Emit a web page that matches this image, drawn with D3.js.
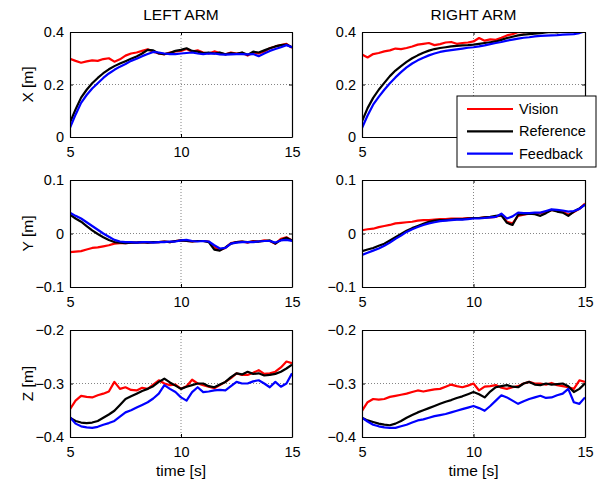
<!DOCTYPE html>
<html lang="en">

<head>
	<meta charset="utf-8">
	<title>arm tracking</title>
	<style>
		body { margin: 0; background: #fff; }
		svg text { font-family: "Liberation Sans", Arial, Helvetica, sans-serif; fill: #000; }
	</style>
</head>

<body>
	<script type="text/javascript" src="https://cdn.jsdelivr.net/npm/d3@7/dist/d3.min.js"></script>
	<script type="text/javascript">

		// samples every 0.25 s from 5 s to 15 s
		const time = d3.range(0, 41).map((i) => 5 + i * 0.25);

		const seriesNames = ["Vision", "Reference", "Feedback"];
		const seriesColors = ["#ff0000", "#000000", "#0000ff"];
		const columnTitles = ["LEFT ARM", "RIGHT ARM"];
		const rowLabels = ["X [m]", "Y [m]", "Z [m]"];
		const xTicks = [5, 10, 15];
		const yTicks = [[0, 0.2, 0.4], [-0.1, 0, 0.1], [-0.4, -0.3, -0.2]];

		const leftX = {
			vision: [0.298, 0.290, 0.283, 0.288, 0.292, 0.290, 0.297, 0.300, 0.287, 0.296, 0.310, 0.318, 0.322, 0.328, 0.334, 0.325, 0.318, 0.315, 0.322, 0.326, 0.328, 0.335, 0.325, 0.330, 0.322, 0.318, 0.326, 0.320, 0.315, 0.322, 0.318, 0.321, 0.310, 0.322, 0.318, 0.326, 0.338, 0.345, 0.350, 0.355, 0.340],
			reference: [0.055, 0.105, 0.150, 0.180, 0.205, 0.225, 0.243, 0.258, 0.270, 0.280, 0.289, 0.298, 0.307, 0.318, 0.332, 0.330, 0.318, 0.316, 0.320, 0.328, 0.332, 0.338, 0.328, 0.325, 0.320, 0.322, 0.318, 0.322, 0.315, 0.320, 0.317, 0.322, 0.313, 0.325, 0.322, 0.330, 0.338, 0.345, 0.350, 0.352, 0.342],
			feedback: [0.035, 0.085, 0.130, 0.160, 0.185, 0.205, 0.225, 0.242, 0.256, 0.268, 0.278, 0.290, 0.298, 0.308, 0.316, 0.324, 0.322, 0.318, 0.316, 0.316, 0.318, 0.320, 0.322, 0.318, 0.316, 0.318, 0.318, 0.315, 0.314, 0.315, 0.316, 0.316, 0.315, 0.316, 0.308, 0.318, 0.328, 0.335, 0.342, 0.350, 0.342]
		};
		const rightX = {
			vision: [0.314, 0.303, 0.316, 0.320, 0.326, 0.330, 0.337, 0.335, 0.339, 0.345, 0.352, 0.355, 0.358, 0.350, 0.354, 0.360, 0.362, 0.355, 0.358, 0.360, 0.364, 0.377, 0.367, 0.372, 0.370, 0.378, 0.387, 0.392, 0.400, 0.398, 0.405, 0.402, 0.408, 0.404, 0.410, 0.406, 0.412, 0.408, 0.410, 0.412, 0.410],
			reference: [0.060, 0.110, 0.149, 0.180, 0.206, 0.232, 0.253, 0.270, 0.286, 0.300, 0.311, 0.321, 0.329, 0.335, 0.339, 0.342, 0.345, 0.347, 0.349, 0.350, 0.352, 0.355, 0.358, 0.361, 0.364, 0.370, 0.377, 0.382, 0.387, 0.390, 0.392, 0.394, 0.396, 0.398, 0.400, 0.398, 0.402, 0.400, 0.404, 0.402, 0.404],
			feedback: [0.034, 0.082, 0.123, 0.153, 0.180, 0.205, 0.227, 0.247, 0.265, 0.280, 0.292, 0.302, 0.311, 0.318, 0.324, 0.328, 0.331, 0.334, 0.337, 0.340, 0.342, 0.345, 0.349, 0.354, 0.358, 0.362, 0.367, 0.371, 0.375, 0.378, 0.380, 0.383, 0.385, 0.386, 0.387, 0.388, 0.390, 0.391, 0.392, 0.396, 0.402]
		};
		const leftY = {
			vision: [-0.035, -0.034, -0.033, -0.030, -0.027, -0.026, -0.024, -0.022, -0.019, -0.018, -0.018, -0.017, -0.017, -0.016, -0.017, -0.016, -0.016, -0.015, -0.016, -0.014, -0.013, -0.014, -0.015, -0.014, -0.014, -0.015, -0.026, -0.031, -0.027, -0.018, -0.016, -0.015, -0.017, -0.014, -0.015, -0.013, -0.014, -0.019, -0.010, -0.007, -0.013],
			reference: [0.035, 0.028, 0.022, 0.014, 0.006, -0.001, -0.007, -0.012, -0.016, -0.017, -0.018, -0.017, -0.017, -0.016, -0.017, -0.016, -0.016, -0.015, -0.016, -0.014, -0.013, -0.014, -0.015, -0.014, -0.014, -0.016, -0.030, -0.032, -0.026, -0.019, -0.016, -0.015, -0.016, -0.015, -0.015, -0.014, -0.013, -0.019, -0.012, -0.008, -0.013],
			feedback: [0.039, 0.033, 0.028, 0.021, 0.014, 0.007, 0.000, -0.006, -0.012, -0.015, -0.016, -0.016, -0.017, -0.016, -0.016, -0.017, -0.016, -0.016, -0.015, -0.015, -0.013, -0.012, -0.014, -0.015, -0.014, -0.015, -0.022, -0.028, -0.027, -0.019, -0.017, -0.016, -0.016, -0.016, -0.015, -0.014, -0.014, -0.017, -0.013, -0.012, -0.014]
		};
		const rightY = {
			vision: [0.006, 0.008, 0.009, 0.012, 0.014, 0.016, 0.019, 0.020, 0.021, 0.022, 0.024, 0.025, 0.025, 0.026, 0.027, 0.027, 0.028, 0.028, 0.028, 0.029, 0.029, 0.029, 0.030, 0.030, 0.031, 0.035, 0.022, 0.019, 0.033, 0.035, 0.037, 0.037, 0.038, 0.040, 0.044, 0.042, 0.041, 0.035, 0.040, 0.046, 0.056],
			reference: [-0.033, -0.030, -0.027, -0.023, -0.019, -0.013, -0.007, -0.001, 0.005, 0.010, 0.014, 0.018, 0.022, 0.024, 0.025, 0.025, 0.026, 0.027, 0.027, 0.028, 0.029, 0.029, 0.030, 0.031, 0.033, 0.034, 0.020, 0.016, 0.035, 0.036, 0.037, 0.036, 0.033, 0.038, 0.044, 0.041, 0.039, 0.033, 0.041, 0.047, 0.054],
			feedback: [-0.040, -0.036, -0.032, -0.028, -0.023, -0.017, -0.010, -0.004, 0.003, 0.008, 0.012, 0.016, 0.019, 0.021, 0.023, 0.024, 0.025, 0.026, 0.026, 0.027, 0.028, 0.028, 0.029, 0.030, 0.031, 0.037, 0.028, 0.032, 0.039, 0.038, 0.038, 0.039, 0.039, 0.042, 0.045, 0.044, 0.043, 0.041, 0.042, 0.046, 0.054]
		};
		const leftZ = {
			vision: [-0.348, -0.332, -0.323, -0.325, -0.326, -0.322, -0.319, -0.315, -0.297, -0.310, -0.307, -0.312, -0.313, -0.308, -0.310, -0.302, -0.294, -0.300, -0.303, -0.302, -0.310, -0.305, -0.293, -0.300, -0.303, -0.306, -0.309, -0.303, -0.297, -0.290, -0.281, -0.284, -0.284, -0.280, -0.275, -0.282, -0.281, -0.278, -0.270, -0.259, -0.262],
			reference: [-0.364, -0.370, -0.373, -0.374, -0.373, -0.370, -0.364, -0.358, -0.351, -0.340, -0.329, -0.324, -0.319, -0.314, -0.310, -0.305, -0.297, -0.291, -0.298, -0.304, -0.310, -0.306, -0.303, -0.300, -0.300, -0.305, -0.307, -0.302, -0.297, -0.288, -0.281, -0.283, -0.278, -0.282, -0.281, -0.285, -0.284, -0.282, -0.278, -0.272, -0.265],
			feedback: [-0.363, -0.375, -0.380, -0.382, -0.383, -0.381, -0.377, -0.374, -0.370, -0.362, -0.354, -0.350, -0.345, -0.340, -0.335, -0.328, -0.319, -0.303, -0.310, -0.316, -0.326, -0.332, -0.316, -0.307, -0.316, -0.315, -0.313, -0.312, -0.313, -0.305, -0.297, -0.300, -0.300, -0.296, -0.294, -0.300, -0.307, -0.297, -0.306, -0.300, -0.281]
		};
		const rightZ = {
			vision: [-0.351, -0.335, -0.329, -0.330, -0.329, -0.325, -0.323, -0.321, -0.319, -0.316, -0.313, -0.315, -0.313, -0.311, -0.310, -0.306, -0.302, -0.305, -0.307, -0.304, -0.300, -0.313, -0.306, -0.305, -0.303, -0.308, -0.310, -0.307, -0.305, -0.300, -0.297, -0.300, -0.300, -0.302, -0.299, -0.303, -0.305, -0.307, -0.310, -0.294, -0.297],
			reference: [-0.364, -0.369, -0.372, -0.375, -0.377, -0.378, -0.375, -0.370, -0.364, -0.359, -0.354, -0.350, -0.346, -0.342, -0.338, -0.334, -0.331, -0.327, -0.324, -0.320, -0.316, -0.320, -0.326, -0.315, -0.307, -0.305, -0.303, -0.306, -0.307, -0.300, -0.297, -0.302, -0.303, -0.300, -0.302, -0.301, -0.300, -0.305, -0.316, -0.310, -0.300],
			feedback: [-0.364, -0.371, -0.377, -0.380, -0.382, -0.383, -0.383, -0.380, -0.377, -0.373, -0.369, -0.367, -0.364, -0.361, -0.359, -0.357, -0.354, -0.351, -0.348, -0.345, -0.342, -0.346, -0.351, -0.342, -0.332, -0.322, -0.326, -0.332, -0.338, -0.333, -0.329, -0.326, -0.323, -0.327, -0.326, -0.322, -0.319, -0.310, -0.335, -0.338, -0.326]
		};

		const panels = [
			[leftX, rightX],
			[leftY, rightY],
			[leftZ, rightZ]
		];

		// plot boxes, pixels
		const colX = [[70, 292], [362, 585]];
		const rowY = [[32, 137], [180, 287], [330, 437]];
		const tickFont = 14.5;
		const labelFont = 15.5;

		const svg = d3.select(document.body)
			.append("svg")
			.attr("width", 603)
			.attr("height", 481);

		panels.forEach((row, r) => {
			row.forEach((data, c) => {
				drawPanel(data, r, c);
			});
		});

		function drawPanel(data, r, c) {
			const x = d3.scaleLinear().domain([5, 15]).range(colX[c]);
			const y = d3.scaleLinear().domain(d3.extent(yTicks[r])).range([rowY[r][1], rowY[r][0]]);
			const [x0, x1] = colX[c];
			const [y0, y1] = rowY[r];
			const g = svg.append("g");
			const clipId = "clip-" + r + "-" + c;

			g.append("clipPath").attr("id", clipId)
				.append("rect")
				.attr("x", x0).attr("y", y0)
				.attr("width", x1 - x0).attr("height", y1 - y0);

			// dotted grid lines
			const grid = g.append("g")
				.attr("stroke", "#666")
				.attr("stroke-width", 0.8)
				.attr("stroke-dasharray", "1,2");
			grid.selectAll("line.vx")
				.data(xTicks.slice(1, -1))
				.join("line")
				.attr("x1", (d) => x(d)).attr("x2", (d) => x(d))
				.attr("y1", y0).attr("y2", y1);
			grid.selectAll("line.hy")
				.data(yTicks[r].slice(1, -1))
				.join("line")
				.attr("y1", (d) => y(d)).attr("y2", (d) => y(d))
				.attr("x1", x0).attr("x2", x1);

			const line = d3.line()
				.x((d, i) => x(time[i]))
				.y((d) => y(d));

			g.append("g")
				.attr("clip-path", "url(#" + clipId + ")")
				.selectAll("path")
				.data([data.vision, data.reference, data.feedback])
				.join("path")
				.attr("fill", "none")
				.attr("stroke", (d, i) => seriesColors[i])
				.attr("stroke-width", 2.2)
				.attr("stroke-linejoin", "round")
				.attr("d", line);

			// the legend hides the 10 and 15 labels of the right X panel
			const xFormat = (r === 0 && c === 1) ? ((d) => d === 5 ? "5" : "") : d3.format("d");

			// axes, ticks pointing inward on every side
			const bottom = d3.axisBottom(x).tickValues(xTicks).tickSizeInner(-3).tickSizeOuter(0).tickPadding(10).tickFormat(xFormat);
			const top = d3.axisTop(x).tickValues(xTicks).tickSizeInner(-3).tickSizeOuter(0).tickFormat("");
			const left = d3.axisLeft(y).tickValues(yTicks[r]).tickSizeInner(-3).tickSizeOuter(0).tickPadding(6)
				.tickFormat((d) => d === 0 ? "0" : d3.format(".1f")(d));
			const right = d3.axisRight(y).tickValues(yTicks[r]).tickSizeInner(-3).tickSizeOuter(0).tickFormat("");

			[
				[bottom, "translate(0," + y1 + ")"],
				[top, "translate(0," + y0 + ")"],
				[left, "translate(" + x0 + ",0)"],
				[right, "translate(" + x1 + ",0)"]
			].forEach(([axis, tr]) => {
				const a = g.append("g").attr("transform", tr).call(axis);
				a.select(".domain").attr("stroke", "#000").attr("stroke-width", 1.2);
				a.selectAll(".tick line").attr("stroke", "#000");
				a.selectAll("text")
					.attr("font-size", tickFont)
					.attr("font-family", null)
					.attr("fill", "#000");
			});

			if (r === 0) {
				g.append("text")
					.attr("x", (x0 + x1) / 2)
					.attr("y", 20)
					.attr("text-anchor", "middle")
					.attr("font-size", labelFont)
					.text(columnTitles[c]);
			}
			if (c === 0) {
				g.append("text")
					.attr("transform", "translate(33," + ((y0 + y1) / 2) + ") rotate(-90)")
					.attr("text-anchor", "middle")
					.attr("font-size", labelFont)
					.text(rowLabels[r]);
			}
			if (r === 2) {
				g.append("text")
					.attr("x", (x0 + x1) / 2)
					.attr("y", 476)
					.attr("text-anchor", "middle")
					.attr("font-size", labelFont)
					.text("time [s]");
			}
		}

		// legend on top of the right X panel
		const legend = svg.append("g");
		legend.append("rect")
			.attr("x", 457).attr("y", 96)
			.attr("width", 139).attr("height", 71)
			.attr("fill", "#fff")
			.attr("stroke", "#000")
			.attr("stroke-width", 1);
		const items = legend.selectAll("g.item")
			.data(seriesNames)
			.join("g")
			.attr("transform", (d, i) => "translate(0," + (109 + i * 22.3) + ")");
		items.append("line")
			.attr("x1", 467).attr("x2", 513)
			.attr("stroke", (d, i) => seriesColors[i])
			.attr("stroke-width", 2.2);
		items.append("text")
			.attr("x", 519)
			.attr("dy", "0.35em")
			.attr("font-size", tickFont)
			.text((d) => d);
	</script>
</body>

</html>
